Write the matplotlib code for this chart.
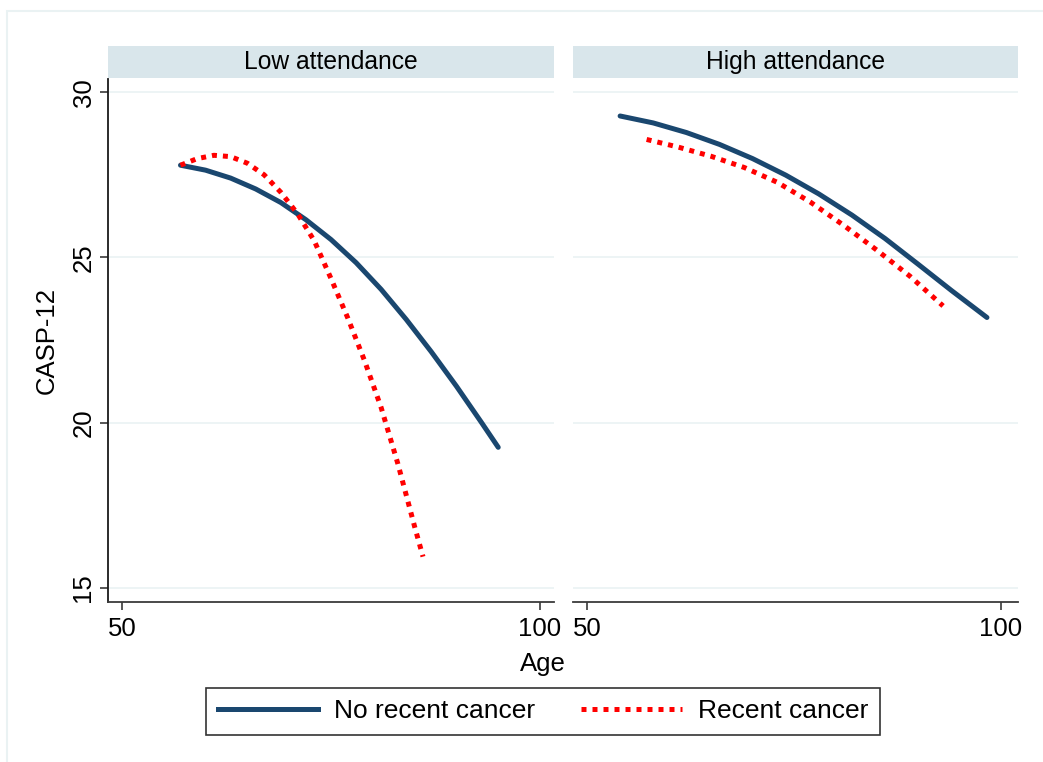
import numpy as np
import matplotlib.pyplot as plt
from matplotlib.lines import Line2D
from matplotlib.patches import Rectangle

plt.rcParams['font.family'] = ['Liberation Sans', 'DejaVu Sans']

# values
panels = ['Low attendance', 'High attendance']

low_nocancer_age = [57, 60, 63, 66, 69, 72, 75, 78, 81, 84, 87, 90, 93, 95]
low_nocancer_casp = [27.79, 27.64, 27.40, 27.07, 26.66, 26.14, 25.54, 24.84, 24.03, 23.12,
                     22.14, 21.10, 20.00, 19.25]

low_cancer_age = [57, 59, 61, 63, 65, 67, 69, 71, 73, 75, 77, 79, 81, 83, 85, 86]
low_cancer_casp = [27.79, 27.99, 28.09, 28.05, 27.85, 27.50, 26.97, 26.32, 25.50, 24.36,
                   23.17, 21.88, 20.45, 18.75, 16.85, 15.94]

high_nocancer_age = [54, 58, 62, 66, 70, 74, 78, 82, 86, 90, 94, 98.3]
high_nocancer_casp = [29.28, 29.07, 28.78, 28.42, 27.99, 27.49, 26.92, 26.28, 25.57, 24.79,
                      24.00, 23.18]

high_cancer_age = [57.2, 61, 65, 69, 73, 77, 81, 85, 89, 93]
high_cancer_casp = [28.57, 28.34, 28.06, 27.72, 27.27, 26.67, 25.97, 25.22, 24.43, 23.53]

series = [
    (low_nocancer_age, low_nocancer_casp, low_cancer_age, low_cancer_casp),
    (high_nocancer_age, high_nocancer_casp, high_cancer_age, high_cancer_casp),
]

W, H = 1043, 762
navy = '#1a476f'
red = '#ff0000'
gridc = '#eaf2f3'
stripc = '#d9e6eb'
fs = 18.5


def box(x0, y0, x1, y1):
    # pixel box (top-left origin) -> figure fraction
    return [x0 / W, 1 - y1 / H, (x1 - x0) / W, (y1 - y0) / H]


fig = plt.figure(figsize=(W / 100, H / 100), dpi=100)

# light outer frame of the graph region
fig.patches.append(Rectangle((7 / W, -0.1), 1.2, 1 - 11 / H + 0.1, transform=fig.transFigure,
                             fill=False, edgecolor=gridc, lw=1.5))

axes_px = [(108, 554, (48.33, 101.67)), (573, 1018, (48.31, 102.05))]
lw = 3.6
dots = (0, (1.0, 1.2))

for i, (x0, x1, xl) in enumerate(axes_px):
    ax = fig.add_axes(box(x0, 79, x1, 601.7))
    ax.set_xlim(*xl)
    ax.set_ylim(14.576, 30.40)
    for yv in [15, 20, 25, 30]:
        ax.axhline(yv, color=gridc, lw=1.2, zorder=0)
    a1, c1, a2, c2 = series[i]
    ax.plot(a1, c1, color=navy, lw=lw, solid_capstyle='round', solid_joinstyle='round', zorder=3)
    ax.plot(a2, c2, color=red, lw=lw, linestyle=dots, dash_capstyle='butt', zorder=4)
    for s in ['top', 'right']:
        ax.spines[s].set_visible(False)
    ax.spines['bottom'].set_color('#3a3a3a')
    ax.spines['bottom'].set_linewidth(1.3)
    ax.set_xticks([50, 100])
    ax.tick_params(axis='x', labelsize=fs, length=6, width=1.2, color='#3a3a3a', pad=5)
    if i == 0:
        ax.spines['left'].set_color('#1a1a1a')
        ax.spines['left'].set_linewidth(1.3)
        ax.set_yticks([15, 20, 25, 30])
        ax.tick_params(axis='y', labelsize=fs, length=6, width=1.2, color='#3a3a3a', pad=3)
        for t in ax.get_yticklabels():
            t.set_rotation(90)
            t.set_va('center')
        ax.set_ylabel('CASP-12', fontsize=fs, labelpad=9)
    else:
        ax.spines['left'].set_visible(False)
        ax.set_yticks([])

    sx = fig.add_axes(box(x0, 46, x1, 78))
    sx.set_facecolor(stripc)
    sx.set_xticks([])
    sx.set_yticks([])
    for s in sx.spines.values():
        s.set_visible(False)
    sx.text(0.5, 0.5, panels[i], ha='center', va='center', fontsize=17.7, transform=sx.transAxes)

fig.text(543 / W, 1 - 664 / H, 'Age', ha='center', va='center', fontsize=fs)

handles = [Line2D([], [], color=navy, lw=lw),
           Line2D([], [], color=red, lw=lw, linestyle=dots, dash_capstyle='butt')]
leg = fig.legend(handles, ['No recent cancer', 'Recent cancer'], loc='center', ncol=2,
                 bbox_to_anchor=(543 / W, 1 - 711.5 / H), fontsize=19, frameon=True,
                 fancybox=False, edgecolor='black', handlelength=3.8, handletextpad=0.6,
                 columnspacing=1.75, borderpad=0.45, borderaxespad=0)
leg.get_frame().set_linewidth(1.2)

fig.savefig('out.png', dpi=100)
